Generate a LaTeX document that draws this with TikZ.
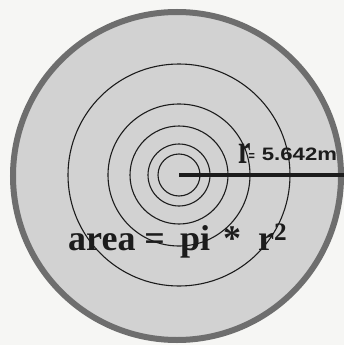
\documentclass[tikz,border=0pt]{standalone}
\usepackage{fontspec}
\setmainfont{Liberation Serif}
\newfontfamily\labelsans{Liberation Sans}
\usepackage{xcolor}
\definecolor{paper}{HTML}{F6F6F4}
\definecolor{disc}{HTML}{D2D2D2}
\definecolor{rim}{HTML}{6E6E6E}
\definecolor{ink}{HTML}{1C1C1C}
\usetikzlibrary{calc}

\begin{document}
\begin{tikzpicture}[x=1pt, y=-1pt,
  ring/.style={draw=ink, line width=1.1pt},
  rline/.style={draw=ink, line width=3.5pt},
  lbl/.style={anchor=base west, inner sep=0pt, text=ink}]

  \useasboundingbox (0,0) rectangle (344,345);
  \fill[paper] (0,0) rectangle (344,345);

  % the disc and its rim
  \filldraw[fill=disc, draw=rim, line width=6pt] (177,176) circle[radius=164];

  % concentric rings round the centre
  \coordinate (c) at (179,175);
  \foreach \rr in {21,31,49,71,111}
    \draw[ring] (c) circle[radius=\rr];

  % radius line out to the right edge
  \coordinate (rend) at (344,175);
  \draw[rline] (c) -- (rend);

  \node[lbl] (rlabel) at (238,163)
    {\fontsize{28}{28}\bfseries\scalebox{1}[1.5]{r}\hspace{-2pt}%
     \raisebox{3pt}{\labelsans\fontsize{18}{18}\bfseries
       \scalebox{0.6}[0.75]{=}\hspace{7pt}\scalebox{1.23}[1]{5.642m}}};
  \node[lbl, font=\fontsize{36}{36}\bfseries] (formula) at (68,250)
    {area =\hspace{6pt} pi\hspace{4pt} *\hspace{8pt} r\textsuperscript{2}};
\end{tikzpicture}
\end{document}
